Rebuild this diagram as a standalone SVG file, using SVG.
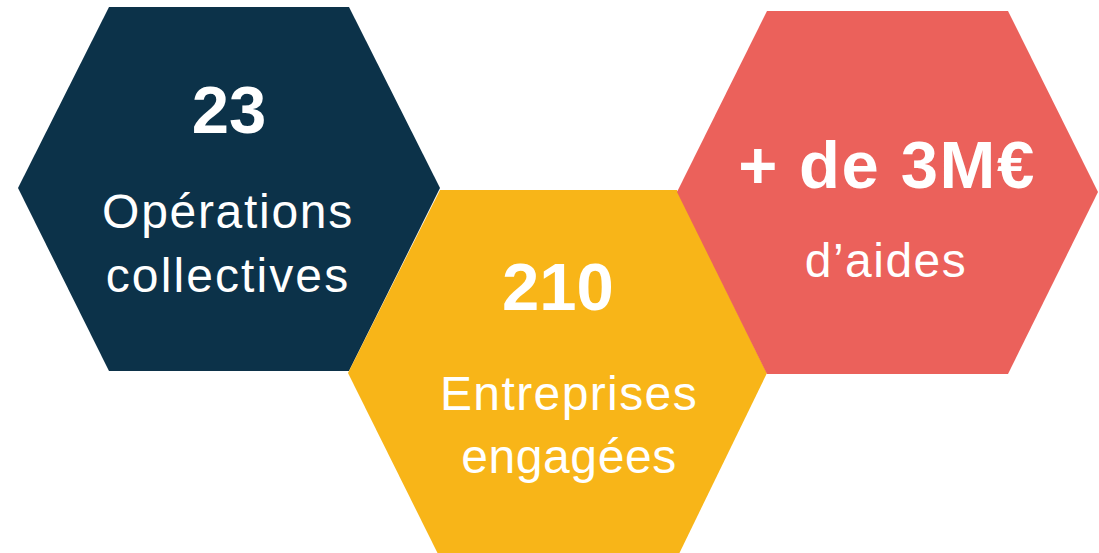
<svg xmlns="http://www.w3.org/2000/svg" width="1099" height="553" viewBox="0 0 1099 553">
<style>
.num{font-family:"Liberation Sans",Arial,sans-serif;font-weight:bold;font-size:67px;fill:#ffffff;text-anchor:middle}
.lbl{font-family:"Liberation Sans",Arial,sans-serif;font-size:48px;fill:#ffffff;text-anchor:middle}
</style>
<rect width="1099" height="553" fill="#ffffff"/>
<g id="hex-operations">
<polygon points="109,7 349,7 440,188 349,371 109,371 18,188" fill="#0c3249"/>
<text class="num" x="229" y="133">23</text>
<text class="lbl" x="228" y="228" letter-spacing="1.7">Opérations</text>
<text class="lbl" x="228" y="292" letter-spacing="2.1">collectives</text>
</g>
<g id="hex-entreprises">
<polygon points="440,190 677,190 767,373 678,556 439,556 348,373" fill="#f8b518"/>
<text class="num" x="558" y="310">210</text>
<text class="lbl" x="569" y="410" letter-spacing="1.4">Entreprises</text>
<text class="lbl" x="569" y="473" letter-spacing="0.6">engagées</text>
</g>
<g id="hex-aides">
<polygon points="767,11 1008,11 1098,192 1008,374 767,374 677,192" fill="#eb615b"/>
<text class="num" x="887" y="188" font-size="66" letter-spacing="1.6">+ de 3M€</text>
<text class="lbl" x="886" y="277" letter-spacing="1.5">d’aides</text>
</g>
<g id="connectors"/>
</svg>
